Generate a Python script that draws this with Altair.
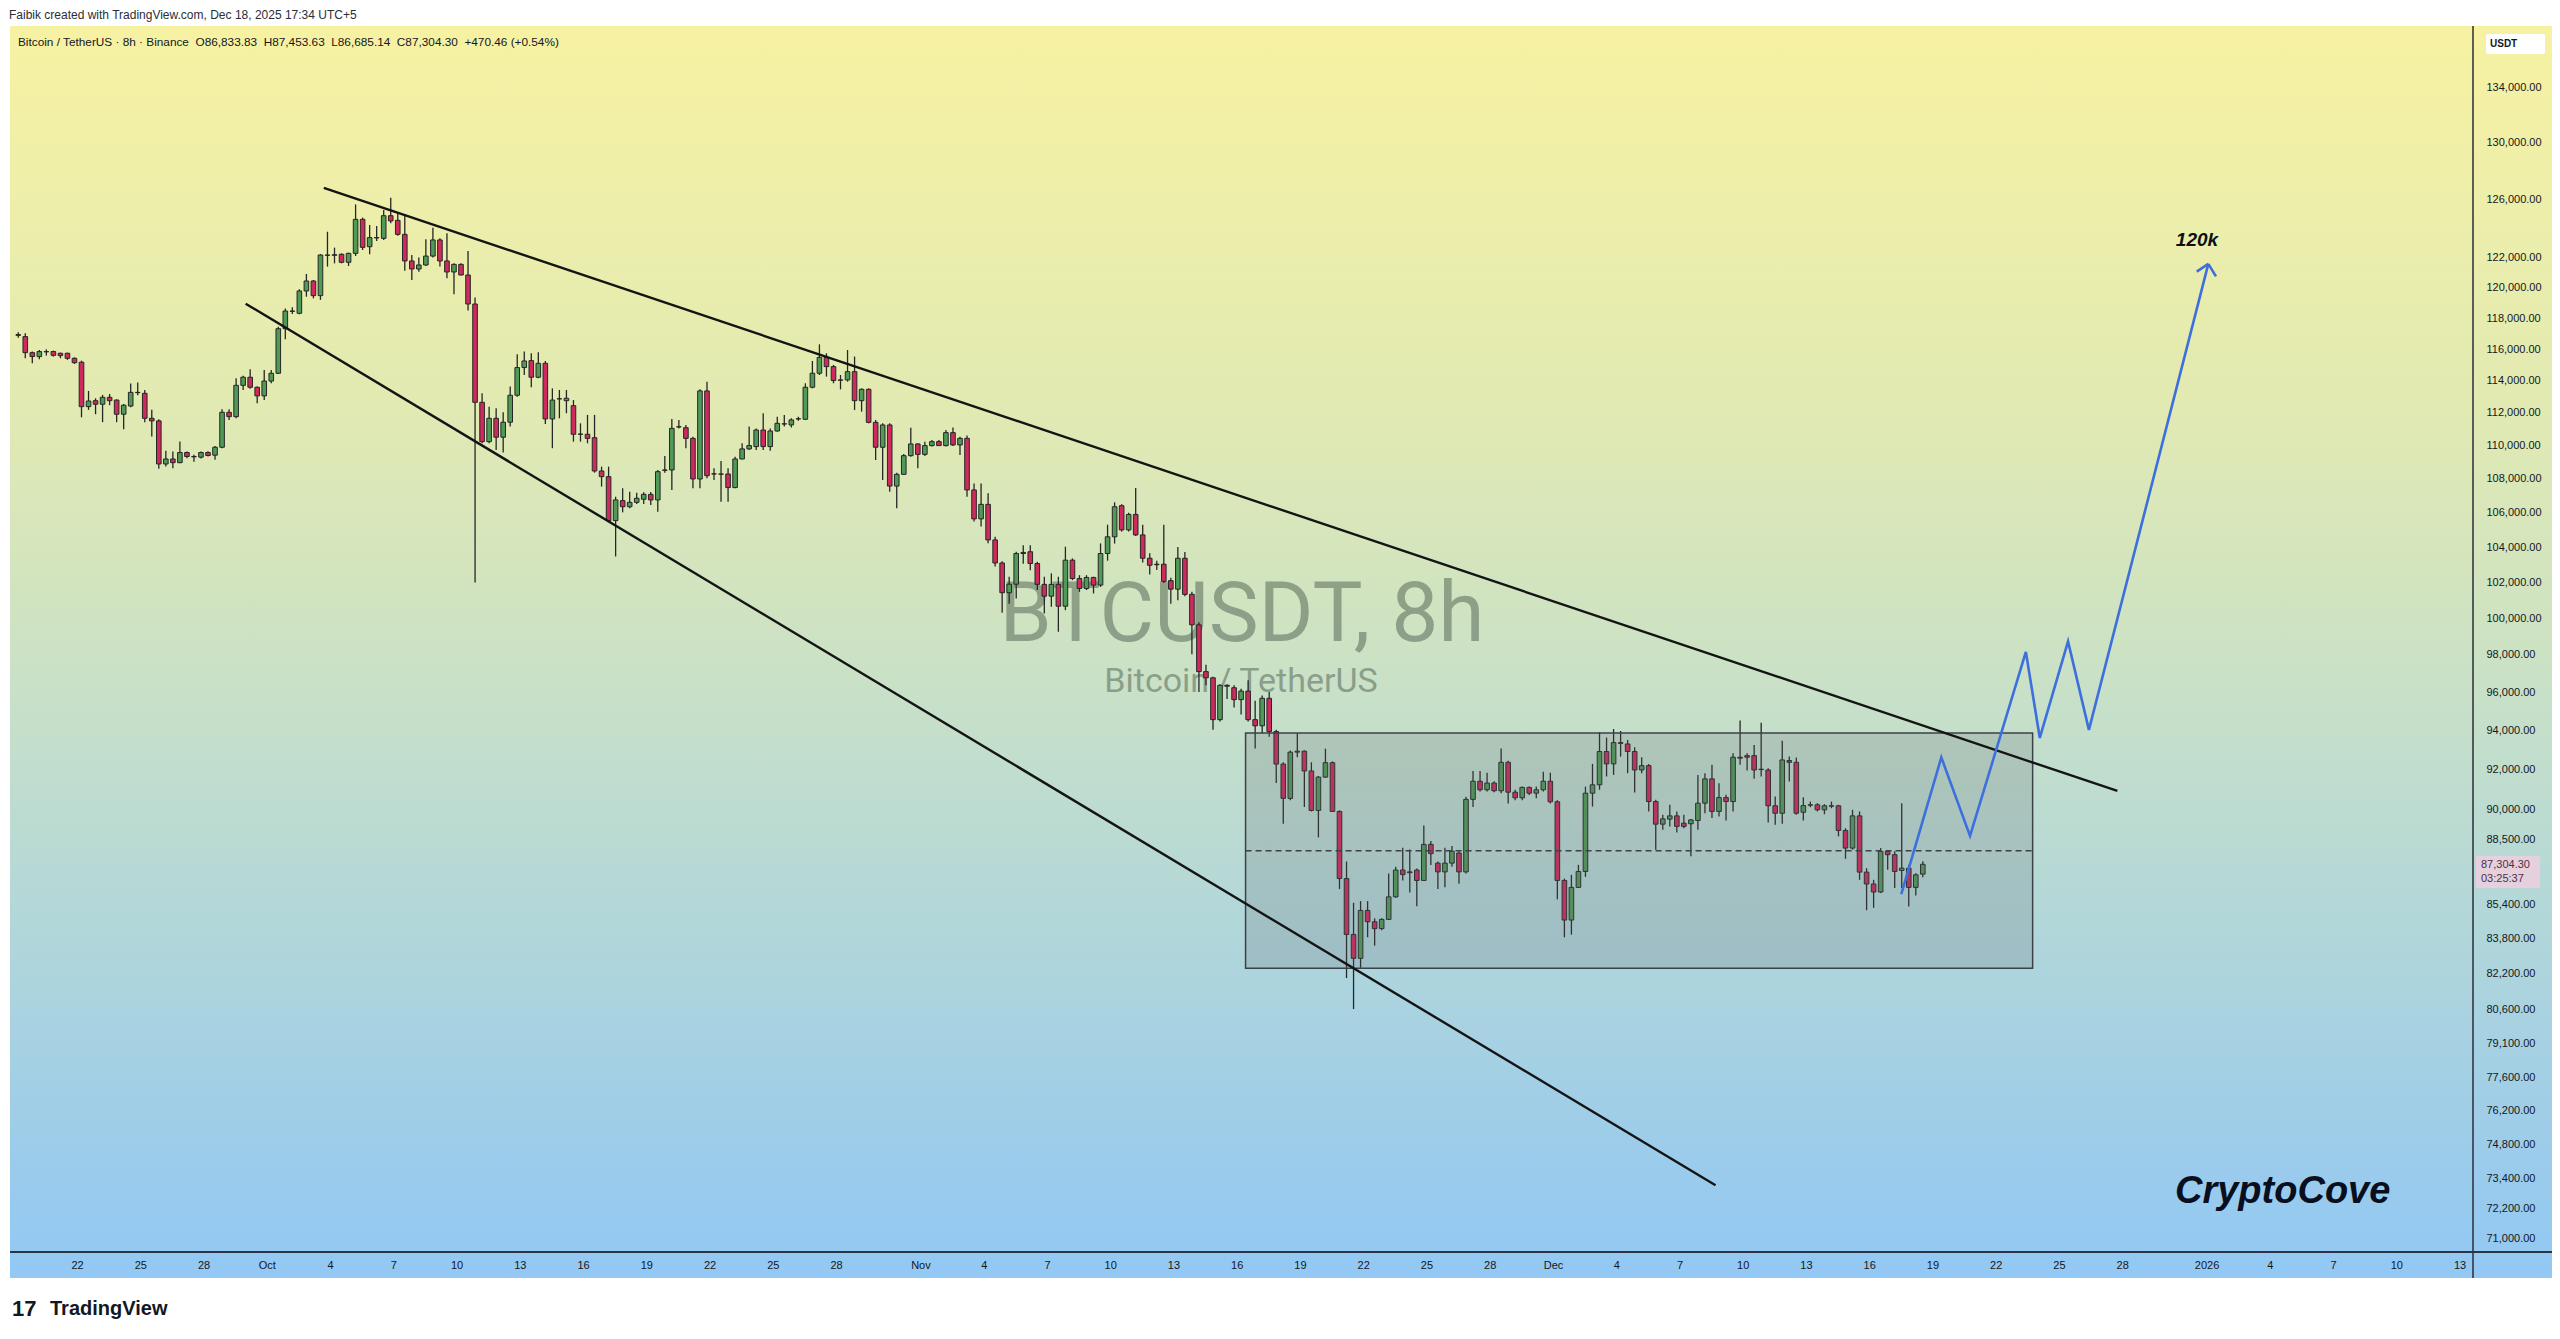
import altair as alt
import pandas as pd

# ------------------------------------------------------------------ data
CANDLE_START = "2025-09-19 05:00"      # first 8h bar (chart time UTC+5)
BAR_HOURS = 8

OPEN = [
 116900,116820,115790,115540,115860,115860,115750,115750,115430,115180,
 112390,112760,112540,112970,112800,111920,112430,113280,113220,111670,
 111510,108890,109190,108970,109580,109340,109300,109580,109420,109900,
 112040,111770,113720,114230,113600,113060,113990,114480,117330,118460,
 118330,119800,120460,119490,122200,122180,122250,121710,122310,124630,
 122760,123380,123330,124880,124560,123600,121800,121260,121530,122130,
 123220,121800,121060,121570,120860,118940,112660,110240,111670,110510,
 111430,113100,114840,115280,114230,115110,111630,112870,112760,112450,
 110690,110690,110480,108470,108130,105540,106710,106350,106610,106790,
 107080,106750,108530,108530,111150,111090,110440,107990,113370,108290,
 108290,108290,107480,109190,109800,109940,110950,109940,110890,111320,
 111260,111630,111610,113600,114480,115490,114900,114060,114060,114580,
 112760,113470,111420,109900,111260,107570,108270,109390,110100,109470,
 110000,110240,110000,110790,110040,110440,107340,105640,106490,104420,
 103100,101420,101900,103640,103740,103070,101890,101230,101890,100670,
 103260,102220,101660,102280,101850,103640,104600,106410,105000,105900,
 104710,103370,103030,103030,102100,101620,103370,101330,99640,97100,
 96770,94560,96370,96240,95610,96060,94560,94240,95680,93940,
 92270,90540,92880,92930,91920,89940,91610,92340,89890,86620,
 83990,82890,85110,84580,84260,84690,85750,87030,86940,87030,
 86530,88270,87360,86940,87360,87850,86940,90490,91400,90970,
 91310,90920,92360,90850,90570,91090,90800,90970,91400,90370,
 86530,84660,86200,86960,90800,91220,92910,92280,93370,93300,
 92910,91970,92190,90380,89260,89510,89670,89310,89280,89440,
 90300,91520,89890,90580,90380,92620,92700,92700,91990,91970,
 90170,89800,92450,92360,89850,90220,90220,89970,90170,90170,
 88950,88090,89670,86930,86360,85980,87930,87770,87010,87120,
 86200,86833.83]

HIGH = [
 117100,117030,115860,115960,116000,115920,115790,115790,115490,115280,
 113370,112910,113120,113180,112840,112560,113830,113890,113430,112190,
 111610,109680,109640,110250,109640,109440,109640,109660,109980,112230,
 112230,114170,114330,114730,113640,114690,114690,117460,118640,118720,
 119910,120930,120530,122270,123780,122700,122310,122360,125660,124750,
 124240,124170,125270,126130,125090,124970,122200,122040,123260,124060,
 123330,123670,121640,121640,122470,119360,113220,112390,112290,112040,
 113640,115690,115860,115750,115810,115260,113530,113430,113430,112800,
 111360,111880,111880,108730,108730,106940,107440,107240,107180,107200,
 107220,108530,109370,111630,111570,111260,110540,113470,113950,108630,
 109070,108630,109330,110140,111160,111050,111980,111050,111770,111880,
 111670,111770,113850,115260,116320,115750,115010,114370,115960,115540,
 113530,113530,111570,111360,111360,108370,109490,111090,110140,110240,
 110340,110340,110950,111110,110540,110610,107730,107730,107140,104600,
 103200,102320,103740,104120,104120,103170,102320,102510,102320,104030,
 103360,102410,102410,102320,104220,105300,106610,106500,106000,107450,
 105300,103660,103230,105300,102260,104010,103720,101480,99780,97470,
 96830,96430,96430,96370,96190,96640,95550,95830,96010,94030,
 92360,92970,93850,92970,92360,91660,93060,92410,89940,87440,
 85470,85550,85550,84740,84740,86860,87190,88100,88020,87100,
 89200,88440,87440,88100,88190,87940,90620,91920,91920,91830,
 91400,93060,92440,90970,91140,91140,91140,91880,91830,90450,
 86620,86800,87280,91130,92280,93900,93630,94070,93970,93510,
 93130,92620,92280,90470,89720,90220,89890,89720,89520,91720,
 91810,92230,91300,90720,92820,94510,92820,93250,94400,92060,
 90630,93470,92650,92600,90600,90380,90300,90250,90380,90220,
 89060,89970,89890,87120,86560,88090,87980,87930,90300,87280,
 86880,87453.63]

LOW = [
 116750,115430,115110,115370,115600,115540,115430,115330,115070,111730,
 112190,111920,111430,112480,111430,111000,112350,113100,111430,110550,
 108600,108740,108640,108930,109240,109030,109220,109340,109140,109840,
 111570,111670,113430,113510,112600,112810,113850,114440,116650,118290,
 118270,119420,119310,119210,121420,121640,121640,121460,122130,122540,
 122250,123150,123220,124360,123510,121150,120530,121080,121460,122040,
 121420,120640,119580,120820,118510,102000,110140,110140,109740,109580,
 111160,113010,114370,113600,114160,111320,109840,111670,111980,110240,
 110240,110140,108370,107540,105480,103470,106020,106260,106510,106510,
 106450,106060,108370,107340,111050,109840,107440,107440,108030,107930,
 106650,106650,107440,109170,109740,109730,109730,109690,110850,111160,
 111110,111520,111560,113530,114370,114270,113850,113470,113950,112180,
 112080,111360,109130,107930,107240,106260,108230,109330,108630,109370,
 109940,109980,109940,109980,109430,106940,105480,105190,104230,102900,
 100300,100800,101100,103050,102690,101570,100260,100640,99260,100450,
 102130,101470,101570,101380,101750,103230,104210,104900,104900,104650,
 103130,102450,102700,101960,100810,101000,101230,98030,96010,96370,
 94030,94470,95640,95190,94830,94470,93060,93850,93670,91310,
 89280,90450,92620,90110,89890,88610,91570,89860,86120,81990,
 80600,82460,83860,83470,84180,84660,85710,86530,85960,85310,
 86530,87270,86120,86210,87190,86370,86860,90110,90880,90880,
 90850,90800,90280,90450,90450,90710,90540,90880,90280,85630,
 83860,83980,86170,86700,90130,90970,91640,91720,92650,91810,
 90830,91810,89890,88010,88980,89150,88850,89060,87690,88980,
 89800,89560,89640,89440,89890,92230,91940,91520,91640,89340,
 89230,89280,91390,89720,89440,90100,89890,89750,90050,88660,
 87570,88010,86560,85120,85230,85930,87040,86170,86170,85300,
 85810,86685.14]

CLOSE = [
 116950,115790,115540,115860,115840,115620,115600,115430,115150,112390,
 112740,112540,112970,112760,111920,112480,113280,113260,111670,111510,
 108890,109190,108970,109580,109340,109320,109580,109400,109900,112040,
 111770,113720,114230,113600,113060,113990,114480,117330,118480,118480,
 119800,120460,119490,122200,122180,122220,121710,122310,124630,122720,
 123380,123360,124880,124520,123600,121800,121260,121530,122130,123220,
 121800,121060,121570,120860,118940,112660,110240,111670,110510,111430,
 113100,114840,115260,114230,115110,111630,112800,112880,112910,110690,
 110700,110440,108470,108130,105540,106750,106350,106610,106850,107080,
 106750,108430,108510,111050,111140,110440,107990,113370,108190,108300,
 108280,107480,109190,109800,110000,110950,109940,110890,111360,111330,
 111570,111640,113600,114480,115490,114900,114020,114040,114580,112760,
 113470,111420,109900,111260,107570,108270,109390,110100,109470,110000,
 110240,110000,110790,110040,110440,107340,105640,106490,104420,103100,
 101420,101900,103640,103700,103070,101890,101230,101890,100670,103260,
 102220,101660,102280,101850,103640,104600,106350,105000,105900,104710,
 103370,102970,103000,102060,101620,103370,101330,99640,97100,96770,
 94560,96370,96320,95610,96060,94560,94240,95680,93940,92270,
 90540,92880,92930,91920,89940,91610,92340,89890,86620,83990,
 82890,85110,84580,84260,84690,85750,87030,86810,86900,86530,
 88270,87820,86940,87360,87940,86940,90490,91400,90970,91310,
 90920,92360,90850,90570,91090,90800,90970,91400,90370,86530,
 84660,86200,86960,90800,91220,92910,92280,93370,93330,92910,
 91970,92190,90380,89260,89520,89670,89150,89150,89470,90300,
 91520,89890,90580,90380,92620,92570,92620,91970,92010,90170,
 89800,92480,92360,89800,90180,90200,89970,90170,90150,88950,
 88090,89670,86930,86360,85980,87930,87770,86960,87120,86200,
 86800,87304.30]

PRICE_TICKS = [134000, 130000, 126000, 122000, 120000, 118000, 116000, 114000,
               112000, 110000, 108000, 106000, 104000, 102000, 100000, 98000,
               96000, 94000, 92000, 90000, 88500, 85400, 83800, 82200, 80600,
               79100, 77600, 76200, 74800, 73400, 72200, 71000]

DATE_TICKS = ["2025-09-22", "2025-09-25", "2025-09-28", "2025-10-01", "2025-10-04",
              "2025-10-07", "2025-10-10", "2025-10-13", "2025-10-16", "2025-10-19",
              "2025-10-22", "2025-10-25", "2025-10-28", "2025-11-01", "2025-11-04",
              "2025-11-07", "2025-11-10", "2025-11-13", "2025-11-16", "2025-11-19",
              "2025-11-22", "2025-11-25", "2025-11-28", "2025-12-01", "2025-12-04",
              "2025-12-07", "2025-12-10", "2025-12-13", "2025-12-16", "2025-12-19",
              "2025-12-22", "2025-12-25", "2025-12-28", "2026-01-01", "2026-01-04",
              "2026-01-07", "2026-01-10", "2026-01-13"]

X_DOMAIN = ["2025-09-19 01:18", "2026-01-13 09:36"]
Y_DOMAIN = [70449, 138510]

# drawings (time, price)
TREND_T1 = ["2025-10-03 16:48", "2025-09-29 23:51"]
TREND_P1 = [126820, 118960]
TREND_T2 = ["2025-12-27 18:29", "2025-12-08 17:02"]
TREND_P2 = [90910, 73130]

BOX_T = ["2025-11-16 10:05", "2025-12-23 18:00"]
BOX_P = [93870, 82440]
BOX_MID = 87960

PATH_T = ["2025-12-17 12:30", "2025-12-19 10:05", "2025-12-20 18:45", "2025-12-23 10:20",
          "2025-12-24 02:10", "2025-12-25 10:20", "2025-12-26 10:05", "2026-01-01 02:00"]
PATH_P = [85880, 92610, 88680, 98160, 93610, 98730, 94030, 121600]
BARB_T = ["2025-12-31 12:50", "2026-01-01 10:42"]
BARB_P = [121080, 120770]

HEADER = ("Bitcoin / TetherUS · 8h · Binance\u00a0\u00a0O86,833.83\u00a0\u00a0H87,453.63"
          "\u00a0\u00a0L86,685.14\u00a0\u00a0C87,304.30\u00a0\u00a0+470.46 (+0.54%)")
CREDIT = "Faibik created with TradingView.com, Dec 18, 2025 17:34 UTC+5"
LAST_PRICE = "87,304.30"
COUNTDOWN = "03:25:37"


def ms(s):
    return int(pd.Timestamp(s, tz="UTC").value // 1_000_000)


# ------------------------------------------------------------------ frames
t0 = ms(CANDLE_START)
step = BAR_HOURS * 3600 * 1000
candles = pd.DataFrame({
    "t": [t0 + i * step for i in range(len(OPEN))],
    "o": OPEN, "c": CLOSE,
    "h": [max(h, o, c) for h, o, c in zip(HIGH, OPEN, CLOSE)],
    "l": [min(l, o, c) for l, o, c in zip(LOW, OPEN, CLOSE)],
})
candles["dir"] = ["up" if c >= o else "down" for o, c in zip(OPEN, CLOSE)]

trend = pd.DataFrame({"t1": [ms(s) for s in TREND_T1], "p1": TREND_P1,
                      "t2": [ms(s) for s in TREND_T2], "p2": TREND_P2})
box = pd.DataFrame({"t1": [ms(BOX_T[0])], "t2": [ms(BOX_T[1])],
                    "p1": [BOX_P[0]], "p2": [BOX_P[1]], "pm": [BOX_MID]})
path = pd.DataFrame({"t": [ms(s) for s in PATH_T], "p": PATH_P,
                     "i": list(range(len(PATH_T)))})
barbs = pd.DataFrame({"t1": [ms(PATH_T[-1])] * 2, "p1": [PATH_P[-1]] * 2,
                      "t2": [ms(s) for s in BARB_T], "p2": BARB_P})
one = pd.DataFrame({"k": [0]})

# ------------------------------------------------------------------ scales
XSCALE = alt.Scale(type="utc", domain=[ms(X_DOMAIN[0]), ms(X_DOMAIN[1])], nice=False)
YSCALE = alt.Scale(type="log", domain=Y_DOMAIN, nice=False)
LABEL_EXPR = ("utcdate(datum.value) == 1 ? (utcmonth(datum.value) == 0 ? "
              "utcFormat(datum.value, '%Y') : utcFormat(datum.value, '%b')) : "
              "utcFormat(datum.value, '%-d')")
XAXIS = alt.Axis(values=[ms(d) for d in DATE_TICKS], labelExpr=LABEL_EXPR, title=None,
                 grid=False, ticks=False, tickSize=0, domain=False, labelPadding=12,
                 labelBaseline="middle", labelFontSize=11, labelFont="Liberation Sans",
                 labelColor="#131722", labelFlush=False, labelOverlap=False,
                 orient="bottom", zindex=2)
YAXIS = alt.Axis(values=PRICE_TICKS, format=",.2f", orient="right", title=None, grid=False,
                 ticks=False, tickSize=0, domain=False, labelPadding=13, labelAlign="left",
                 labelFontSize=11, labelFont="Liberation Sans", labelColor="#131722",
                 labelOverlap=False, labelFlush=False, labelBound=False, zindex=2)


def X(f):
    return alt.X(f, type="temporal", scale=XSCALE, axis=XAXIS)


def Y(f):
    return alt.Y(f, type="quantitative", scale=YSCALE, axis=YAXIS)


W, H = 2463, 1225

# ------------------------------------------------------------------ layers
grad = alt.LinearGradient(gradient="linear", x1=0, x2=0, y1=0, y2=1, stops=[
    alt.GradientStop(offset=0.0, color="#F7F2A2"),
    alt.GradientStop(offset=0.3, color="#E2EAB2"),
    alt.GradientStop(offset=0.5, color="#CCE2C4"),
    alt.GradientStop(offset=0.7, color="#B4D8D8"),
    alt.GradientStop(offset=0.9, color="#9CCCEB"),
    alt.GradientStop(offset=1.0, color="#92C8F4")])

bg = alt.Chart(one).mark_rect(fill=grad).encode(
    x=alt.value(0), x2=alt.value(2542), y=alt.value(-2), y2=alt.value(1250))

credit = alt.Chart(one).mark_text(align="left", baseline="middle", font="Liberation Sans",
                                  fontSize=12, color="#2a2e39").encode(
    x=alt.value(-1), y=alt.value(-13), text=alt.value(CREDIT))

header = alt.Chart(one).mark_text(align="left", baseline="middle", font="Liberation Sans",
                                  fontSize=11.8, color="#131722").encode(
    x=alt.value(8), y=alt.value(14), text=alt.value(HEADER))

wm1 = alt.Chart(one).mark_text(align="center", baseline="alphabetic", font="Roboto",
                               fontSize=84, color="#3f4f42", opacity=0.45).encode(
    x=alt.value(1232), y=alt.value(613), text=alt.value("BTCUSDT, 8h"))
wm2 = alt.Chart(one).mark_text(align="center", baseline="alphabetic", font="Roboto",
                               fontSize=34, color="#3f4f42", opacity=0.45).encode(
    x=alt.value(1231), y=alt.value(664), text=alt.value("Bitcoin / TetherUS"))

wicks = alt.Chart(candles).mark_rule(color="#262626", strokeWidth=1.3).encode(
    x=X("t"), y=Y("l"), y2=alt.Y2("h"))
bodies = alt.Chart(candles).mark_bar(size=4.6, stroke="#262626", strokeWidth=1).encode(
    x=X("t"), y=Y("o"), y2=alt.Y2("c"),
    color=alt.Color("dir:N", legend=None,
                    scale=alt.Scale(domain=["up", "down"], range=["#4f9a57", "#cf2a5d"])))

box_rect = alt.Chart(box).mark_rect(fill="#5f6670", fillOpacity=0.2, stroke="#3c4146",
                                    strokeWidth=1.5).encode(
    x=X("t1"), x2=alt.X2("t2"), y=Y("p1"), y2=alt.Y2("p2"))
box_mid = alt.Chart(box).mark_rule(color="#3c4146", strokeWidth=1.4, strokeDash=[6, 4]).encode(
    x=X("t1"), x2=alt.X2("t2"), y=Y("pm"))

trendlines = alt.Chart(trend).mark_rule(color="#141414", strokeWidth=2.4).encode(
    x=X("t1"), x2=alt.X2("t2"), y=Y("p1"), y2=alt.Y2("p2"))

proj = alt.Chart(path).mark_line(color="#3d6fdd", strokeWidth=2.6).encode(
    x=X("t"), y=Y("p"), order=alt.Order("i:Q"))
arrow = alt.Chart(barbs).mark_rule(color="#3d6fdd", strokeWidth=2.6).encode(
    x=X("t1"), x2=alt.X2("t2"), y=Y("p1"), y2=alt.Y2("p2"))

t120 = alt.Chart(one).mark_text(align="center", baseline="alphabetic", font="Liberation Sans",
                                fontSize=19, fontWeight="bold", fontStyle="italic",
                                color="#0d0f14").encode(
    x=alt.value(2187), y=alt.value(218), text=alt.value("120k"))
cove = alt.Chart(one).mark_text(align="left", baseline="alphabetic", font="Liberation Sans",
                                fontSize=38, fontWeight="bold", fontStyle="italic",
                                color="#0a0f1e").encode(
    x=alt.value(2165), y=alt.value(1175), text=alt.value("CryptoCove"))

# axis borders
vline = alt.Chart(one).mark_rule(color="#2a2e39", strokeWidth=1.5).encode(
    x=alt.value(2463), y=alt.value(-2), y2=alt.value(1250))
hline = alt.Chart(one).mark_rule(color="#2a3442", strokeWidth=2).encode(
    x=alt.value(0), x2=alt.value(2542), y=alt.value(1224))

usdt_box = alt.Chart(one).mark_rect(fill="white", cornerRadius=2).encode(
    x=alt.value(2476), x2=alt.value(2535), y=alt.value(6), y2=alt.value(26))
usdt_txt = alt.Chart(one).mark_text(align="left", baseline="middle", font="Liberation Sans",
                                    fontSize=10, fontWeight="bold", color="#131722").encode(
    x=alt.value(2480), y=alt.value(16), text=alt.value("USDT"))

lp_box = alt.Chart(one).mark_rect(fill="#e7d0dd").encode(
    x=alt.value(2466), x2=alt.value(2530), y=alt.value(828), y2=alt.value(860))
lp_txt1 = alt.Chart(one).mark_text(align="left", baseline="middle", font="Liberation Sans",
                                   fontSize=11, color="#4d3045").encode(
    x=alt.value(2471), y=alt.value(837), text=alt.value(LAST_PRICE))
lp_txt2 = alt.Chart(one).mark_text(align="left", baseline="middle", font="Liberation Sans",
                                   fontSize=11, color="#4d3045").encode(
    x=alt.value(2471), y=alt.value(851), text=alt.value(COUNTDOWN))

logo = alt.Chart(one).mark_text(align="left", baseline="alphabetic", font="Liberation Sans",
                                fontSize=22, fontWeight="bold", color="#131722").encode(
    x=alt.value(2), y=alt.value(1288), text=alt.value("17"))
brand = alt.Chart(one).mark_text(align="left", baseline="alphabetic", font="Liberation Sans",
                                 fontSize=20, fontWeight="bold", color="#131722").encode(
    x=alt.value(40), y=alt.value(1287), text=alt.value("TradingView"))

chart = alt.layer(
    bg, wm1, wm2, wicks, bodies, box_rect, box_mid, trendlines, proj, arrow,
    t120, cove, vline, hline, usdt_box, usdt_txt, lp_box, lp_txt1, lp_txt2,
    credit, header, logo, brand,
).properties(
    width=W, height=H,
    padding={"left": 2, "top": 20, "right": 79, "bottom": 78},
    autosize=alt.AutoSizeParams(type="none"),
).configure_view(stroke=None).configure(background="white")

chart.save("out.html", embed_options={"renderer": "svg", "actions": False})
